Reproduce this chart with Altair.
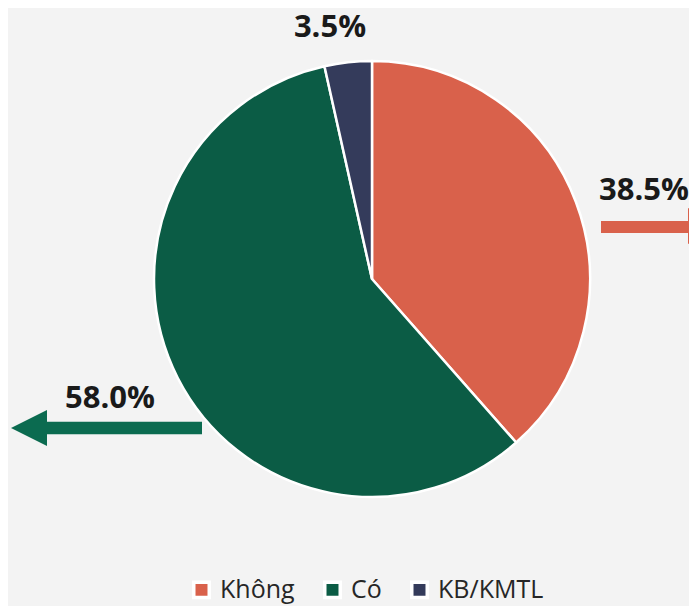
import altair as alt
import pandas as pd

categories = ["Không", "Có", "KB/KMTL"]
values = [38.5, 58.0, 3.5]
labels = ["38.5%", "58.0%", "3.5%"]
colors = ["#d9614b", "#0b5c45", "#343b5b"]

W, H = 681, 598
cx, cy, R = 364, 271, 218

df = pd.DataFrame({"cat": categories, "val": values, "ord": [0, 1, 2]})

pie = alt.Chart(df).mark_arc(radius=R, stroke="white", strokeWidth=2.5).encode(
    theta=alt.Theta("val:Q", stack=True),
    order=alt.Order("ord:Q"),
    color=alt.Color(
        "cat:N",
        scale=alt.Scale(domain=categories, range=colors),
        sort=categories,
        legend=alt.Legend(
            title=None,
            orient="none",
            direction="horizontal",
            legendX=181,
            legendY=569,
            symbolType="square",
            symbolSize=240,
            symbolStrokeColor="white",
            symbolStrokeWidth=3.5,
            symbolOpacity=1,
            labelFont="Open Sans",
            labelFontSize=25,
            labelColor="#262626",
            labelOffset=6,
            columnPadding=22,
        ),
    ),
    x=alt.value(cx),
    y=alt.value(cy),
)

def label(text, x, y):
    d = pd.DataFrame({"lab": [text]})
    return alt.Chart(d).mark_text(
        font="Open Sans", fontSize=31, fontWeight="bold", color="#1a1a1a",
        baseline="alphabetic", align="center"
    ).encode(x=alt.value(x), y=alt.value(y), text="lab:N")

lab1 = label(labels[0], 636, 192)
lab2 = label(labels[1], 102, 400)
lab3 = label(labels[2], 322, 29)

arrow_df = pd.DataFrame({"a": [0]})
shaft_r = alt.Chart(arrow_df).mark_rule(color="#d9614b", strokeWidth=12, strokeCap="butt").encode(
    x=alt.value(593), x2=alt.value(681), y=alt.value(219))
head_r = alt.Chart(arrow_df).mark_point(
    shape="M1,0L-1,-1L-1,1Z", size=1296, filled=True, color="#d9614b", opacity=1
).encode(x=alt.value(698), y=alt.value(218))
shaft_l = alt.Chart(arrow_df).mark_rule(color="#0b6b50", strokeWidth=12.5, strokeCap="butt").encode(
    x=alt.value(37), x2=alt.value(194), y=alt.value(420))
head_l = alt.Chart(arrow_df).mark_point(
    shape="M-1,0L1,-1L1,1Z", size=1296, filled=True, color="#0b6b50", opacity=1
).encode(x=alt.value(21), y=alt.value(420))

chart = alt.layer(pie, lab1, lab2, lab3, shaft_r, head_r, shaft_l, head_l).properties(
    width=W, height=H, autosize=alt.AutoSizeParams(type="none"), padding=0,
    background="#f3f3f3"
).configure_view(stroke=None)

chart.save("out.html", embed_options={"renderer": "svg", "actions": False})
